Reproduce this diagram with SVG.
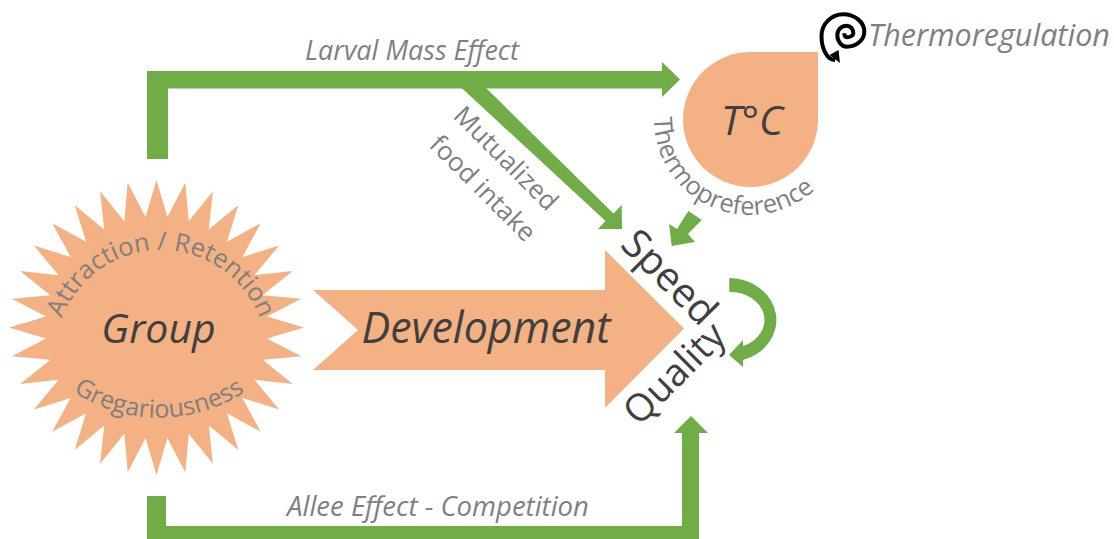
<svg xmlns="http://www.w3.org/2000/svg" width="1114" height="539" viewBox="0 0 1114 539">
<style>
.o{fill:#f4b183}
.g{fill:#70ad47}
text{font-family:"Open Sans","Noto Sans","Liberation Sans",sans-serif}
.d{fill:#404040}
.l{fill:#7f7f7f}
.i{font-style:italic}
</style>
<defs>
<path id="p1" d="M55 356A106 106 0 0 1 267 356"/>
<path id="p2" d="M68 388A154 154 0 0 0 250 388"/>
<path id="p3" d="M655 105A96 96 0 0 0 823.500 180.700"/>
</defs>
<rect width="1114" height="539" fill="#fff"/>
<g id="connectors">
<path class="g" d="M147 159V71H662V62L680 79.500L662 97V88.500H168V159Z"/>
<path class="g" d="M461.700 88L486 88L613.500 213.500L621.700 205L622 229L598 229L605.500 221Z"/>
<path class="g" d="M688.300 211L701.700 220L688 234L695 242L671.700 246L669 224L677 229Z"/>
<path class="g" d="M147 496H166V526H682V433H674L691 416L708 433H699V539H147Z"/>
<path class="g" d="M729.300 278A48 42 0 0 1 743 360V367L729 355L743 340V346A34 28 0 0 0 729.300 292Z"/>
</g>
<g id="group">
<polygon class="o" transform="translate(156.500 327.500)" points="0,-147.500 10.900,-110.500 28.800,-144.700 32.200,-106.200 56.400,-136.300 52.300,-97.900 81.900,-122.600 70.400,-85.800 104.300,-104.300 85.800,-70.400 122.600,-81.900 97.900,-52.300 136.300,-56.400 106.200,-32.200 144.700,-28.800 110.500,-10.900 147.500,0 110.500,10.900 144.700,28.800 106.200,32.200 136.300,56.400 97.900,52.300 122.600,81.900 85.800,70.400 104.300,104.300 70.400,85.800 81.900,122.600 52.300,97.900 56.400,136.300 32.200,106.200 28.800,144.700 10.900,110.500 0,147.500 -10.900,110.500 -28.800,144.700 -32.200,106.200 -56.400,136.300 -52.300,97.900 -81.900,122.600 -70.400,85.800 -104.300,104.300 -85.800,70.400 -122.600,81.900 -97.900,52.300 -136.300,56.400 -106.200,32.200 -144.700,28.800 -110.500,10.900 -147.500,0 -110.500,-10.900 -144.700,-28.800 -106.200,-32.200 -136.300,-56.400 -97.900,-52.300 -122.600,-81.900 -85.800,-70.400 -104.300,-104.300 -70.400,-85.800 -81.900,-122.600 -52.300,-97.900 -56.400,-136.300 -32.200,-106.200 -28.800,-144.700 -10.900,-110.500"/>
<text class="d i" x="158.500" y="343" font-size="41" text-anchor="middle">Group</text>
<text class="l" font-size="25.500"><textPath href="#p1" startOffset="50%" text-anchor="middle">Attraction / Retention</textPath></text>
<text class="l" font-size="25"><textPath href="#p2" startOffset="50%" text-anchor="middle">Gregariousness</textPath></text>
</g>
<g id="development">
<path class="o" d="M313 290H605V250L684 328.500L605 408V370H313L358 330Z"/>
<text class="d i" x="486" y="343" font-size="43" text-anchor="middle">Development</text>
</g>
<g id="outcomes">
<text class="d" font-size="40" transform="translate(619 246) rotate(45)">Speed</text>
<text class="d" font-size="38" transform="translate(639 427) rotate(-45)">Quality</text>
</g>
<g id="temperature">
<path class="o" d="M750.500 52H818V119.500A67.500 67.500 0 1 1 750.500 52Z"/>
<text class="d i" x="752" y="135" font-size="41" text-anchor="middle">T°C</text>
<text class="l" font-size="25.500"><textPath href="#p3" startOffset="50%" text-anchor="middle">Thermopreference</textPath></text>
</g>
<g id="thermoregulation">
<path d="M844.300 33.300A2.400 4 0 0 0 846.700 37.300A6.600 4 0 0 0 853.300 33.300A6.600 7.600 0 0 0 846.700 25.700A9.400 9.300 0 0 0 837.300 35A9.400 11.700 0 0 0 846.700 46.700A17.600 15 0 0 0 864.300 31.700A21 17.400 0 0 0 843.300 14.300A21.800 21.700 0 0 0 821.500 36A13.500 24 0 0 0 835 60" fill="none" stroke="#000" stroke-width="4"/>
<path d="M829.500 55L838.500 50L840 63Z" fill="#000"/>
<text class="l i" x="868" y="46" font-size="30.500">Thermoregulation</text>
</g>
<g id="labels">
<text class="l i" x="412" y="60" font-size="27" text-anchor="middle">Larval Mass Effect</text>
<text class="l i" x="438" y="516" font-size="27.500" text-anchor="middle">Allee Effect - Competition</text>
<text class="l" font-size="26" transform="translate(452 117) rotate(45)">Mutualized</text>
<text class="l" font-size="26" transform="translate(428 146) rotate(45)">food intake</text>
</g>
</svg>
